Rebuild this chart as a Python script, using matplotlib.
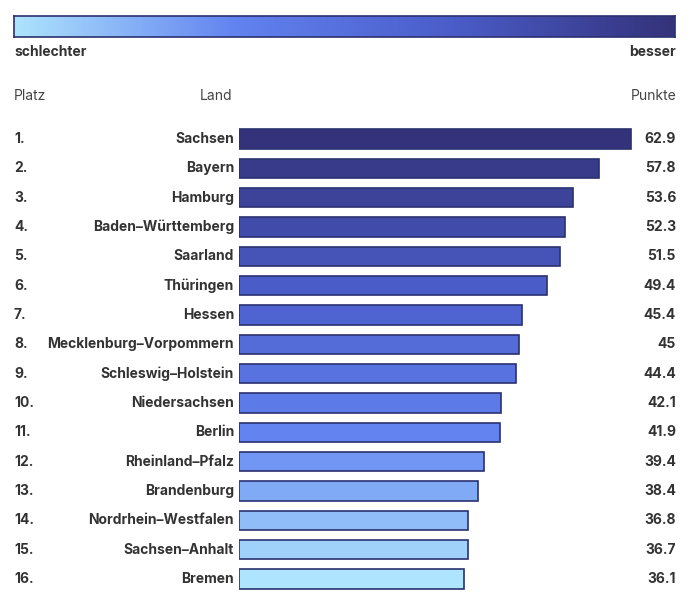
import numpy as np
import matplotlib.pyplot as plt
from matplotlib.colors import LinearSegmentedColormap
from matplotlib.transforms import blended_transform_factory

laender = ['Sachsen', 'Bayern', 'Hamburg', 'Baden–Württemberg', 'Saarland', 'Thüringen',
           'Hessen', 'Mecklenburg–Vorpommern', 'Schleswig–Holstein', 'Niedersachsen',
           'Berlin', 'Rheinland–Pfalz', 'Brandenburg', 'Nordrhein–Westfalen',
           'Sachsen–Anhalt', 'Bremen']
punkte = [62.9, 57.8, 53.6, 52.3, 51.5, 49.4, 45.4, 45, 44.4, 42.1, 41.9, 39.4, 38.4, 36.8, 36.7, 36.1]
punkte_text = ['62.9', '57.8', '53.6', '52.3', '51.5', '49.4', '45.4', '45', '44.4', '42.1',
               '41.9', '39.4', '38.4', '36.8', '36.7', '36.1']

plt.rcParams['font.family'] = ['Inter', 'DejaVu Sans']
W, H = 699, 616
fig = plt.figure(figsize=(W / 100, H / 100), dpi=100)

cmap = LinearSegmentedColormap.from_list('sk', ['#aee4fd', '#6283f0', '#4a5cc8', '#34327a'], N=256)
text_col = '#333333'
edge_col = '#2b3170'

def fx(px):
    return px / W

def fy(py):
    return 1 - py / H

# colour scale bar
cax = fig.add_axes([fx(14), fy(37), fx(675) - fx(14), fy(16) - fy(37)])
cax.imshow(np.linspace(0, 1, 256)[None, :], aspect='auto', cmap=cmap)
cax.set_xticks([])
cax.set_yticks([])
for s in cax.spines.values():
    s.set_color(edge_col)
    s.set_linewidth(1.2)
fig.text(fx(14), fy(52), 'schlechter', fontsize=10, fontweight='bold', color=text_col, va='center', ha='left')
fig.text(fx(676), fy(52), 'besser', fontsize=10, fontweight='bold', color=text_col, va='center', ha='right')

fig.text(fx(14), fy(96), 'Platz', fontsize=10, color='#444444', va='center', ha='left')
fig.text(fx(200), fy(96), 'Land', fontsize=10, color='#444444', va='center', ha='left')
fig.text(fx(676), fy(96), 'Punkte', fontsize=10, color='#444444', va='center', ha='right')

# bars
n = len(punkte)
step = (578 - 138) / (n - 1)
top = 139 - step / 2
bottom = 579 + step / 2
scale = 6.23
right_px = 676
ax = fig.add_axes([fx(239), fy(bottom), fx(right_px) - fx(239), fy(top) - fy(bottom)])
ax.set_xlim(0, (right_px - 239) / scale)
ax.set_ylim(n - 0.5, -0.5)
ax.axis('off')

y = np.arange(n)
ranks = np.argsort(np.argsort(punkte))
colors = [cmap(r / (n - 1)) for r in ranks]
ax.barh(y, punkte, height=0.66, color=colors, edgecolor=edge_col, linewidth=1.2)

tr = blended_transform_factory(fig.transFigure, ax.transData)
for i in range(n):
    ax.text(fx(14), i, f'{i + 1}.', transform=tr, fontsize=10, fontweight='bold',
            color=text_col, va='center', ha='left')
    ax.text(fx(234), i, laender[i], transform=tr, fontsize=10, fontweight='bold',
            color=text_col, va='center', ha='right')
    ax.text(fx(676), i, punkte_text[i], transform=tr, fontsize=10, fontweight='bold',
            color=text_col, va='center', ha='right')

fig.savefig('out.png', dpi=100, facecolor='white')
